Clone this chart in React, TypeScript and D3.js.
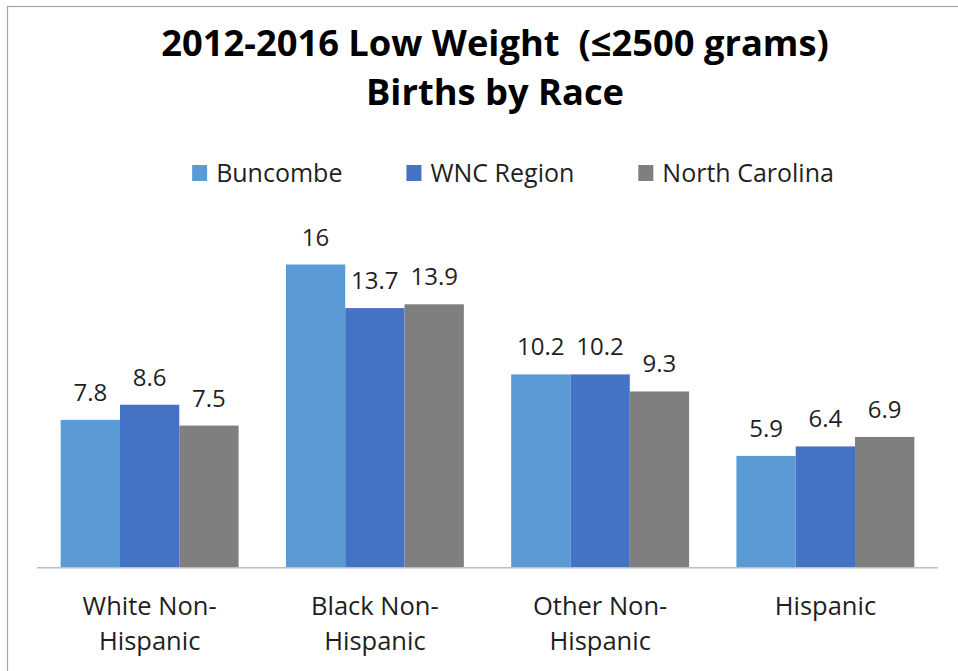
import React, { useEffect, useRef } from "react";
import * as d3 from "d3";

const categories = ["White Non-Hispanic", "Black Non-Hispanic", "Other Non-Hispanic", "Hispanic"];
const categoryLines = [["White Non-", "Hispanic"], ["Black Non-", "Hispanic"], ["Other Non-", "Hispanic"], ["Hispanic"]];
const seriesNames = ["Buncombe", "WNC Region", "North Carolina"];
const buncombe = [7.8, 16, 10.2, 5.9];
const wncRegion = [8.6, 13.7, 10.2, 6.4];
const northCarolina = [7.5, 13.9, 9.3, 6.9];
const seriesColors = ["#5B9BD5", "#4472C4", "#7F7F7F"];
const titleLines = ["2012-2016 Low Weight\u00A0 (\u22642500 grams)", "Births by Race"];
const yMax = 18;

const W = 958;
const H = 671;
const FONT = "'Open Sans', 'Noto Sans', sans-serif";

export default function App() {
  const ref = useRef<SVGSVGElement | null>(null);

  useEffect(() => {
    const svg = d3.select(ref.current);
    svg.selectAll("*").remove();

    const values = [buncombe, wncRegion, northCarolina];

    // frame
    svg.append("rect")
      .attr("x", 7.5).attr("y", 6.5)
      .attr("width", W + 10).attr("height", H + 10)
      .attr("fill", "#fff").attr("stroke", "#A6A6A6").attr("stroke-width", 1.2);

    const plotLeft = 37, plotRight = 938, plotBottom = 567.7, plotTop = 226.6;

    const x0 = d3.scaleBand<string>().domain(categories).range([plotLeft, plotRight]).paddingInner(0.21).paddingOuter(0.105);
    const x1 = d3.scaleBand<string>().domain(seriesNames).range([0, x0.bandwidth()]).padding(0);
    const y = d3.scaleLinear().domain([0, yMax]).range([plotBottom, plotTop]);

    // title
    const title = svg.append("g");
    titleLines.forEach((t, i) => {
      title.append("text")
        .attr("x", 495).attr("y", 55.7 + i * 49.3)
        .attr("text-anchor", "middle")
        .attr("font-family", FONT).attr("font-weight", 700).attr("font-size", 36.3)
        .attr("fill", "#000")
        .text(t);
    });

    // legend
    const legend = svg.append("g");
    const items = seriesNames.map((name, i) => {
      const g = legend.append("g");
      g.append("rect").attr("x", 0).attr("y", 165).attr("width", 15).attr("height", 16).attr("fill", seriesColors[i]);
      const t = g.append("text").attr("x", 24).attr("y", 181.5)
        .attr("font-family", FONT).attr("font-size", 25).attr("fill", "#1f1f1f").text(name);
      const w = (t.node() as SVGTextElement).getComputedTextLength();
      return { g, w: 24 + w };
    });
    const gap = 64;
    const total = d3.sum(items, (d) => d.w) + gap * (items.length - 1);
    let cx = 513 - total / 2;
    items.forEach((it) => {
      it.g.attr("transform", `translate(${cx},0)`);
      cx += it.w + gap;
    });

    // bars
    const groups = svg.append("g").selectAll("g").data(categories).join("g")
      .attr("transform", (d) => `translate(${x0(d)},0)`);
    groups.each(function (cat, ci) {
      const g = d3.select(this);
      seriesNames.forEach((s, si) => {
        const v = values[si][ci];
        g.append("rect")
          .attr("x", x1(s)!).attr("y", y(v))
          .attr("width", x1.bandwidth()).attr("height", y(0) - y(v))
          .attr("fill", seriesColors[si]);
        g.append("text")
          .attr("x", x1(s)! + x1.bandwidth() / 2).attr("y", y(v) - 19)
          .attr("text-anchor", "middle")
          .attr("font-family", FONT).attr("font-size", 24).attr("fill", "#1f1f1f")
          .text(String(v));
      });
    });

    // axis line
    svg.append("line")
      .attr("x1", plotLeft).attr("x2", plotRight)
      .attr("y1", plotBottom).attr("y2", plotBottom)
      .attr("stroke", "#BFBFBF").attr("stroke-width", 1.5);

    // category labels
    categories.forEach((c, i) => {
      categoryLines[i].forEach((line, li) => {
        svg.append("text")
          .attr("x", x0(c)! + x0.bandwidth() / 2).attr("y", 615 + li * 35)
          .attr("text-anchor", "middle")
          .attr("font-family", FONT).attr("font-size", 25.5).attr("fill", "#1f1f1f")
          .text(line);
      });
    });
  }, []);

  return (
    <svg ref={ref} width={W} height={H} style={{ position: "absolute", left: 0, top: 0, background: "#fff" }} />
  );
}
